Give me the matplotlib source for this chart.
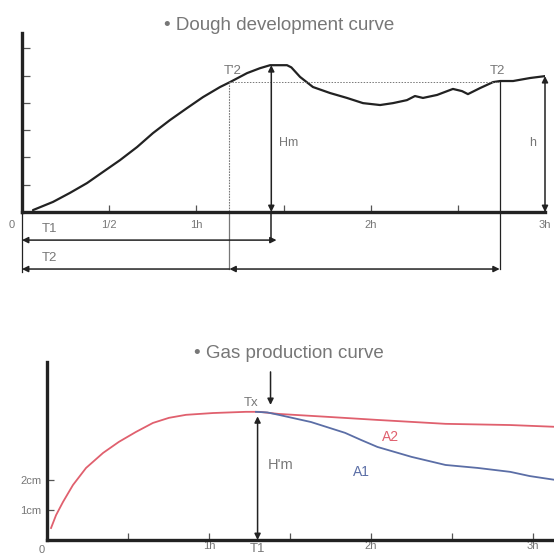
import matplotlib

matplotlib.use("Agg")
import matplotlib.pyplot as plt

# dough development curve (hours, height units)
dough_t = [0.063, 0.178, 0.275, 0.373, 0.465, 0.562, 0.660, 0.751, 0.849, 0.947,
           1.038, 1.136, 1.193, 1.291, 1.365, 1.423, 1.520, 1.545, 1.595, 1.669,
           1.767, 1.864, 1.956, 2.054, 2.128, 2.208, 2.254, 2.300, 2.381, 2.472,
           2.524, 2.558, 2.627, 2.702, 2.742, 2.817, 2.914, 3.0]
dough_h = [0.07, 0.37, 0.70, 1.06, 1.47, 1.90, 2.38, 2.89, 3.37, 3.81,
           4.21, 4.58, 4.76, 5.09, 5.27, 5.38, 5.38, 5.30, 4.95, 4.58,
           4.36, 4.18, 3.99, 3.92, 3.99, 4.10, 4.25, 4.18, 4.29, 4.51,
           4.43, 4.32, 4.54, 4.76, 4.80, 4.80, 4.91, 4.98]
dough_xticks = [0, 0.5, 1, 1.5, 2, 2.5, 3]
dough_xlabels = ["", "1/2", "1h", "", "2h", "", "3h"]
t1_dough, t2p, t_peak, t2 = 1.46, 1.19, 1.43, 2.74
h_peak, h_t2p, h_end = 5.38, 4.76, 4.98

# gas production curve (hours, cm)
red_t = [0.025, 0.056, 0.099, 0.160, 0.241, 0.346, 0.444, 0.549, 0.654, 0.753,
         0.858, 1.025, 1.228, 1.309, 1.43, 1.74, 2.04, 2.46, 2.86, 3.14]
red_cm = [0.40, 0.83, 1.27, 1.83, 2.40, 2.90, 3.27, 3.60, 3.90, 4.07,
          4.17, 4.23, 4.27, 4.27, 4.20, 4.10, 4.00, 3.87, 3.83, 3.77]
blue_t = [1.29, 1.36, 1.43, 1.63, 1.84, 1.94, 2.04, 2.25, 2.46, 2.66, 2.86, 2.98, 3.14]
blue_cm = [4.27, 4.25, 4.17, 3.93, 3.57, 3.33, 3.10, 2.77, 2.50, 2.40, 2.27, 2.13, 2.00]
gas_xticks = [0.5, 1, 1.5, 2, 2.5, 3]
gas_xlabels = ["", "1h", "", "2h", "", "3h"]
gas_yticks = [1, 2]
gas_ylabels = ["1cm", "2cm"]
tx, tx_cm = 1.30, 4.27

INK = "#222222"
GREY = "#777777"
RED = "#e0606e"
BLUE = "#5b6ea6"
FONT = "Liberation Sans"

W, H = 554, 555
fig = plt.figure(figsize=(W / 100, H / 100), dpi=100)


def frac(x0, y0, x1, y1):
    return [x0 / W, 1 - y1 / H, (x1 - x0) / W, (y1 - y0) / H]


def style(ax):
    for s in ("top", "right"):
        ax.spines[s].set_visible(False)
    for s in ("left", "bottom"):
        ax.spines[s].set_linewidth(2.4)
        ax.spines[s].set_color(INK)
    ax.tick_params(direction="in", length=5, width=0.9, color="#555555",
                   labelsize=8, labelcolor=GREY, pad=6)


def darrow(ax, p0, p1, style="<|-|>"):
    ax.annotate("", xy=p1, xytext=p0, annotation_clip=False,
                arrowprops=dict(arrowstyle=style, color=INK, lw=1.1,
                                shrinkA=0, shrinkB=0, mutation_scale=9))


tk = dict(color=GREY, fontfamily=FONT, ha="center", va="center")

# ---- top: dough development
ax1 = fig.add_axes(frac(22, 33, 545, 212))
style(ax1)
ax1.set_xlim(0, 3)
ax1.set_ylim(0, 6.56)
ax1.plot(dough_t, dough_h, color=INK, lw=1.6, solid_capstyle="round",
         solid_joinstyle="round")
ax1.set_xticks(dough_xticks, dough_xlabels, fontfamily=FONT)
ax1.set_yticks([1, 2, 3, 4, 5, 6], [])
ax1.tick_params(axis="y", length=6)
ax1.text(-0.057, -0.48, "0", fontsize=8, **tk)

row1, row2 = -1.03, -2.09
ax1.plot([t2p, t2], [h_t2p, h_t2p], color=GREY, lw=0.7, ls=(0, (1.5, 1.5)))
ax1.plot([t2p, t2p], [h_t2p, 0], color=GREY, lw=0.8, ls=(0, (1.5, 1.0)))
ax1.plot([t2p, t2p], [0, row2], color=GREY, lw=0.9, clip_on=False)
ax1.plot([t2, t2], [h_t2p, row2], color=INK, lw=0.9, clip_on=False)
ax1.plot([0, 0], [0, row2 - 0.1], color=INK, lw=0.9, clip_on=False)
ax1.plot([t_peak, t_peak], [0, row1], color=INK, lw=1.1, clip_on=False)
darrow(ax1, (t_peak, 0), (t_peak, h_peak))
darrow(ax1, (3, 0), (3, h_end))
darrow(ax1, (0, row1), (t1_dough, row1))
darrow(ax1, (t2p, row2), (0, row2), "-|>")
darrow(ax1, (t2p, row2), (t2, row2))

ax1.text(0.491, 1.042, "\u2022 Dough development curve", transform=ax1.transAxes,
         fontsize=13.5, **tk)
ax1.text(t2p + 0.02, 5.15, "T'2", fontsize=9.5, **tk)
ax1.text(t2 - 0.01, 5.15, "T2", fontsize=9.5, **tk)
ax1.text(t_peak + 0.1, 2.52, "Hm", fontsize=9, **tk)
ax1.text(2.93, 2.52, "h", fontsize=9, **tk)
ax1.text(0.16, -0.62, "T1", fontsize=9.5, **tk)
ax1.text(0.16, -1.68, "T2", fontsize=9.5, **tk)

# ---- bottom: gas production
ax2 = fig.add_axes(frac(47, 362, 554, 540))
style(ax2)
ax2.set_xlim(0, 3.13)
ax2.set_ylim(0, 5.93)
ax2.plot(red_t, red_cm, color=RED, lw=1.3, solid_joinstyle="round")
ax2.plot(blue_t, blue_cm, color=BLUE, lw=1.3, solid_joinstyle="round")
ax2.set_xticks(gas_xticks, gas_xlabels, fontfamily=FONT)
ax2.set_yticks(gas_yticks, gas_ylabels, fontfamily=FONT)
ax2.tick_params(axis="y", pad=4)
ax2.tick_params(axis="x", pad=1)
ax2.text(-0.03, -0.33, "0", fontsize=8, **tk)

darrow(ax2, (tx, 0), (tx, tx_cm - 0.15))
darrow(ax2, (tx + 0.08, 5.6), (tx + 0.08, 4.5), "-|>")
ax2.text(0.477, 1.05, "\u2022 Gas production curve", transform=ax2.transAxes,
         fontsize=13.5, **tk)
ax2.text(tx - 0.04, 4.58, "Tx", fontsize=9.5, **tk)
ax2.text(tx + 0.14, 2.5, "H'm", fontsize=10.5, **tk)
ax2.text(tx, -0.3, "T1", fontsize=9.5, **tk)
ax2.text(2.12, 3.43, "A2", fontsize=10, color=RED, fontfamily=FONT,
         ha="center", va="center")
ax2.text(1.94, 2.27, "A1", fontsize=10, color=BLUE, fontfamily=FONT,
         ha="center", va="center")

fig.savefig("out.png", dpi=100)
